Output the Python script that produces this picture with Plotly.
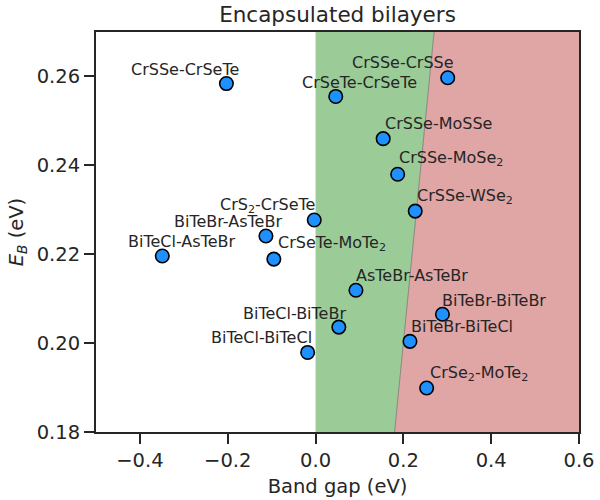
import plotly.graph_objects as go

# band gap (eV) and binding energy E_B (eV) for each bilayer
names = [
    "CrSSe-CrSeTe", "CrSeTe-CrSeTe", "CrSSe-CrSSe", "CrSSe-MoSSe",
    "CrSSe-MoSe<sub>2</sub>", "CrSSe-WSe<sub>2</sub>", "CrS<sub>2</sub>-CrSeTe",
    "BiTeBr-AsTeBr", "BiTeCl-AsTeBr", "CrSeTe-MoTe<sub>2</sub>", "AsTeBr-AsTeBr",
    "BiTeBr-BiTeBr", "BiTeCl-BiTeBr", "BiTeBr-BiTeCl", "BiTeCl-BiTeCl",
    "CrSe<sub>2</sub>-MoTe<sub>2</sub>",
]
band_gap = [
    -0.203, 0.046, 0.301, 0.154, 0.187, 0.227, -0.003, -0.113,
    -0.349, -0.095, 0.092, 0.289, 0.053, 0.215, -0.018, 0.253,
]
binding_energy = [
    0.2584, 0.2555, 0.2597, 0.2460, 0.2380, 0.2297, 0.2277, 0.2241,
    0.2196, 0.2189, 0.2119, 0.2065, 0.2036, 0.2004, 0.1979, 0.1899,
]

# regions: 0 < gap < E_B (green) and gap > E_B (red)
eb_limits = [0.18, 0.27]
gap_limits = [-0.5, 0.6]

# label offsets in pixels (right, up) from each marker
label_dx = [-41, 24, -45, 55, 53, 50, -47, -38, 20, 58, 56, 52, -44, 52, -46, 52]
label_dy = [14, 14, 15, 15, 16, 15, 15, 15, 15, 16, 15, 14, 14, 15, 15, 15]

GREEN = "rgb(155,204,152)"
RED = "rgb(224,165,165)"
INK = "#262626"

fig = go.Figure()

fig.add_trace(go.Scatter(
    x=[0, eb_limits[0], eb_limits[1], 0],
    y=[eb_limits[0], eb_limits[0], eb_limits[1], eb_limits[1]],
    fill="toself", fillcolor=GREEN, mode="none", hoverinfo="skip",
))
fig.add_trace(go.Scatter(
    x=[eb_limits[0], gap_limits[1], gap_limits[1], eb_limits[1]],
    y=[eb_limits[0], eb_limits[0], eb_limits[1], eb_limits[1]],
    fill="toself", fillcolor=RED, mode="none", hoverinfo="skip",
))
fig.add_trace(go.Scatter(
    x=eb_limits, y=eb_limits, mode="lines",
    line=dict(color="rgba(110,110,110,0.7)", width=1), hoverinfo="skip",
))

fig.add_trace(go.Scatter(
    x=band_gap, y=binding_energy, mode="markers",
    marker=dict(size=13.5, color="#1e90ff", line=dict(color="black", width=1.6)),
    text=names, hoverinfo="text",
))

for name, gx, gy, dx, dy in zip(names, band_gap, binding_energy, label_dx, label_dy):
    fig.add_annotation(
        x=gx, y=gy, text=name, showarrow=False,
        xshift=dx, yshift=dy, xanchor="center", yanchor="middle",
        font=dict(size=16, color=INK),
    )

axis_style = dict(
    showline=True, linecolor=INK, linewidth=2, mirror=True,
    ticks="outside", ticklen=10, tickwidth=2, tickcolor=INK,
    showgrid=False, zeroline=False, automargin=False,
    tickfont=dict(size=19.5, color=INK),
)

fig.update_layout(
    template="none",
    width=600, height=500,
    margin=dict(l=96, r=21, t=32, b=68),
    paper_bgcolor="white", plot_bgcolor="white",
    font=dict(family="DejaVu Sans", color=INK),
    showlegend=False,
    title=dict(
        text="Encapsulated bilayers", x=0.5625, xanchor="center",
        y=0.972, yanchor="middle", font=dict(size=21.5, color=INK),
    ),
    xaxis=dict(
        range=gap_limits, dtick=0.2, tick0=0, tickformat=".1f",
        title=dict(text="Band gap (eV)", font=dict(size=19.5, color=INK), standoff=8),
        **axis_style,
    ),
    yaxis=dict(
        range=eb_limits, dtick=0.02, tick0=0.18, tickformat=".2f",
        title=dict(text="<i>E<sub>B</sub></i> (eV)", font=dict(size=19.5, color=INK), standoff=8),
        **axis_style,
    ),
)

# drop the default page margin so the figure sits at the window's corner
fig.write_html(
    "out.html",
    config={"displayModeBar": False},
    post_script="document.body.style.margin = '0px';",
)
